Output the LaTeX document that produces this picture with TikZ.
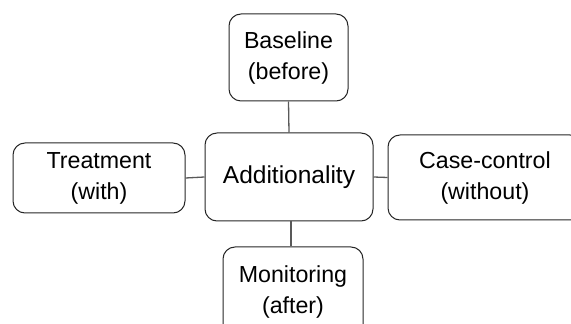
\documentclass[tikz,border=0pt]{standalone}
\usepackage{fontspec}
\setmainfont{Liberation Sans}
\begin{document}
\begin{tikzpicture}[x=1pt,y=1pt,
  box/.style={draw=black!85, line width=1pt, rounded corners=12pt, inner sep=0pt, align=center,
    font=\fontsize{23.2}{31}\selectfont},
  link/.style={draw=black!65, line width=1.3pt}]
\useasboundingbox (0,0) rectangle (571,324);
\clip (0,0) rectangle (571,324);
\node[box, minimum width=119pt, minimum height=87pt] (base) at (288.5,266.5) {Baseline\\(before)};
\node[box, minimum width=172pt, minimum height=70pt] (treat) at (99,146) {Treatment\\(with)};
\node[box, minimum width=168pt, minimum height=88pt, font=\fontsize{24.5}{30}\selectfont] (add) at (289,147) {Additionality};
\node[box, minimum width=194pt, minimum height=85pt] (case) at (485,146.5) {Case-control\\(without)};
\node[box, minimum width=140pt, minimum height=90pt] (mon) at (293,32) {Monitoring\\(after)};
\draw[link] (base.south) -- (add.north);
\draw[link] (treat.east) -- (add.west);
\draw[link] (add.east) -- (case.west);
\draw[link] ([xshift=-2pt]mon.north) -- ([xshift=-2pt]mon.north |- add.south);
\end{tikzpicture}
\end{document}
